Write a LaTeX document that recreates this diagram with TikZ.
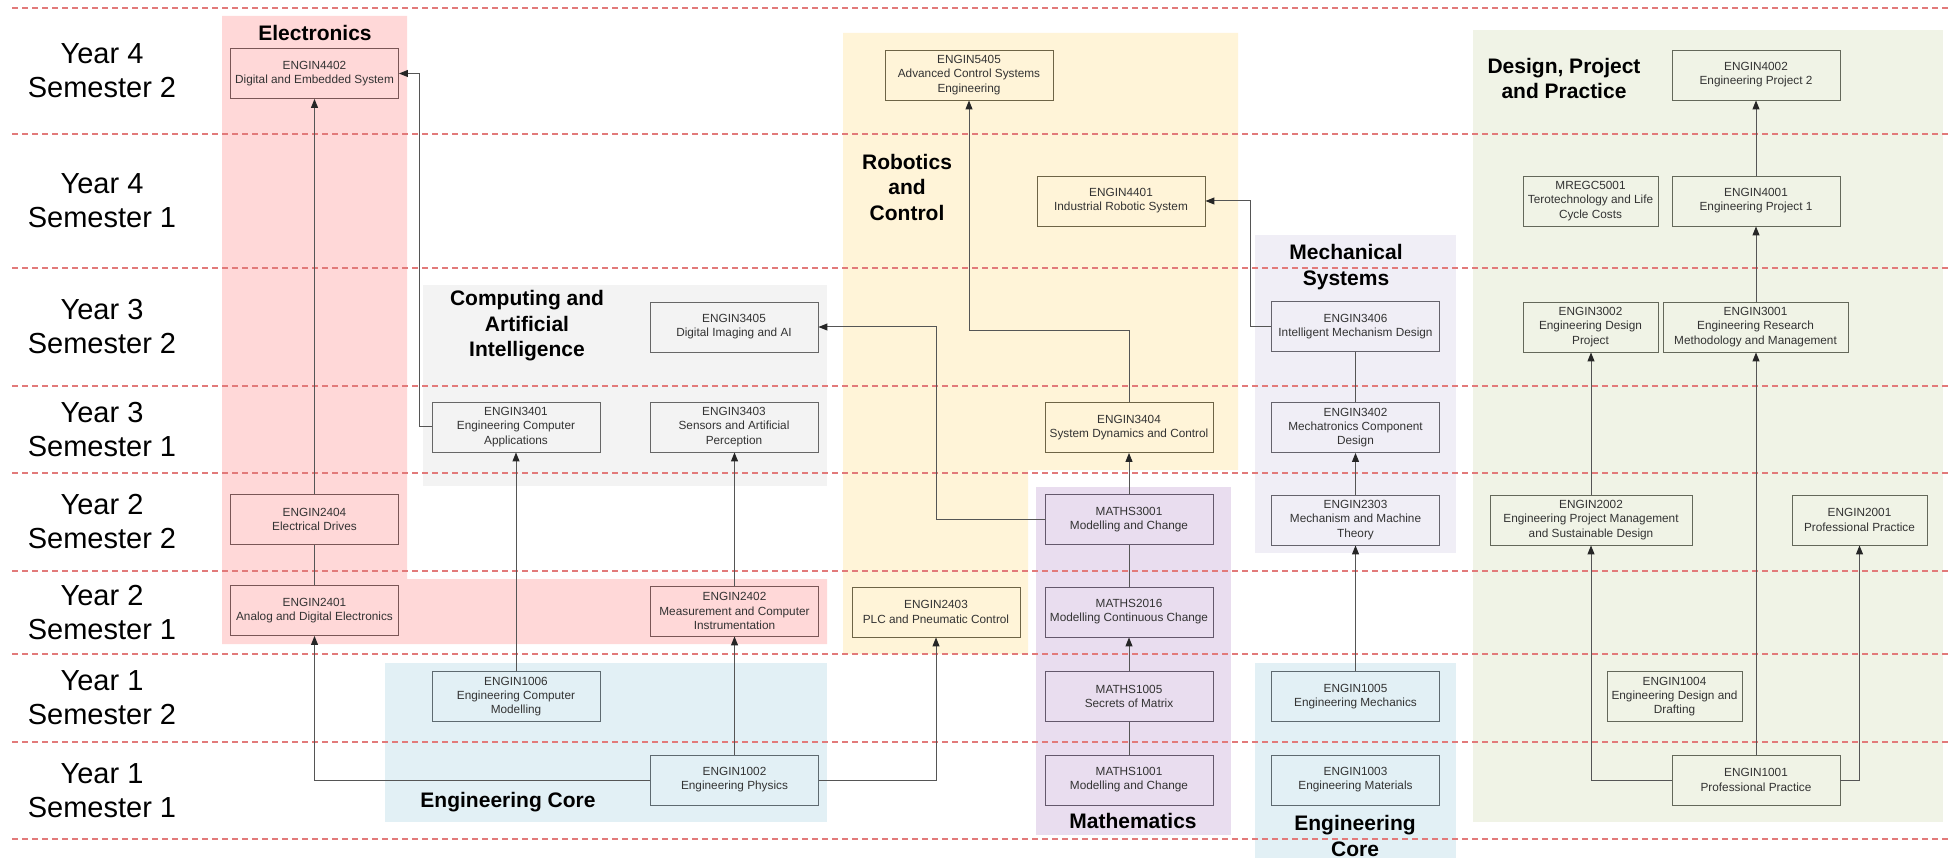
\documentclass[tikz,border=0pt]{standalone}
\usepackage{fontspec}
\setmainfont{Liberation Sans}
\usetikzlibrary{arrows.meta,calc}
\definecolor{elecfill}{HTML}{FFD8D8}
\definecolor{elecdraw}{HTML}{7A5656}
\definecolor{compfill}{HTML}{F3F3F3}
\definecolor{compdraw}{HTML}{666666}
\definecolor{robfill}{HTML}{FFF4D8}
\definecolor{robdraw}{HTML}{6E6446}
\definecolor{mathfill}{HTML}{E9DDEF}
\definecolor{mathdraw}{HTML}{64586C}
\definecolor{mechfill}{HTML}{F0EEF6}
\definecolor{mechdraw}{HTML}{65636C}
\definecolor{corefill}{HTML}{E2F0F5}
\definecolor{coredraw}{HTML}{5E6A70}
\definecolor{desfill}{HTML}{F0F3E6}
\definecolor{desdraw}{HTML}{64685A}
\definecolor{gridred}{HTML}{E27A7A}
\definecolor{connc}{HTML}{555555}
\definecolor{boxtext}{HTML}{333333}
\begin{document}
\begin{tikzpicture}[x=1pt,y=-1pt,
  course/.style={draw, line width=0.9pt, minimum width=168pt, minimum height=50pt,
    inner sep=2pt, align=center, text=boxtext, font=\fontsize{11.8}{14.2}\selectfont},
  elec/.style={course, fill=elecfill, draw=elecdraw},
  comp/.style={course, fill=compfill, draw=compdraw},
  rob/.style={course, fill=robfill, draw=robdraw},
  mth/.style={course, fill=mathfill, draw=mathdraw},
  mech/.style={course, fill=mechfill, draw=mechdraw},
  core/.style={course, fill=corefill, draw=coredraw},
  des/.style={course, fill=desfill, draw=desdraw},
  rowlabel/.style={align=center, font=\fontsize{29}{34}\selectfont},
  grouptitle/.style={align=center, font=\bfseries\fontsize{21}{25.5}\selectfont},
  gridline/.style={draw=gridred, line width=1.2pt, dash pattern=on 6pt off 4pt},
  conn/.style={draw=connc, line width=1pt},
  arr/.style={conn, -{Triangle[length=9pt,width=7pt,color=black!85]}},
]
\useasboundingbox (0,0) rectangle (1952,858);
\fill[white] (0,0) rectangle (1952,858);

% group backgrounds
\fill[elecfill] (222,16) -- (407,16) -- (407,579) -- (827,579) -- (827,644) -- (222,644) -- cycle;
\fill[compfill] (423,285) rectangle (827,486);
\fill[corefill] (385,663) rectangle (827,822);
\fill[robfill] (843,33) -- (1238,33) -- (1238,470) -- (1028,470) -- (1028,654) -- (843,654) -- cycle;
\fill[mathfill] (1036,487) rectangle (1231,835);
\fill[mechfill] (1255,235) rectangle (1456,553);
\fill[corefill] (1255,663) rectangle (1456,858);
\fill[desfill] (1473,30) rectangle (1943,822);

% semester grid lines
\foreach \yy in {8,134,268,386,473,571,654,742,839}
  \draw[gridline] (12,\yy) -- (1952,\yy);

% row labels
\node[rowlabel] (r1) at (102,71) {Year 4\\Semester 2};
\node[rowlabel] (r2) at (102,201) {Year 4\\Semester 1};
\node[rowlabel] (r3) at (102,327) {Year 3\\Semester 2};
\node[rowlabel] (r4) at (102,429.5) {Year 3\\Semester 1};
\node[rowlabel] (r5) at (102,522) {Year 2\\Semester 2};
\node[rowlabel] (r6) at (102,612.5) {Year 2\\Semester 1};
\node[rowlabel] (r7) at (102,698) {Year 1\\Semester 2};
\node[rowlabel] (r8) at (102,790.5) {Year 1\\Semester 1};

% group titles
\node[grouptitle] (tElec) at (315,33) {Electronics};
\node[grouptitle] (tComp) at (527,326) {Computing and\\Artificial\\Intelligence};
\node[grouptitle] (tCore1) at (508,802) {Engineering Core};
\node[grouptitle] (tRob) at (907,187) {Robotics\\and\\Control};
\node[grouptitle] (tMech) at (1346,267) {Mechanical\\Systems};
\node[grouptitle] (tMath) at (1133,821) {Mathematics};
\node[grouptitle] (tCore2) at (1355,836) {Engineering\\Core};
\node[grouptitle] (tDes) at (1564,78.5) {Design, Project\\and Practice};

% Electronics
\node[elec] (e4402) at (314.5,73.5) {ENGIN4402\\Digital and Embedded System};
\node[elec] (e2404) at (314.5,519.5) {ENGIN2404\\Electrical Drives};
\node[elec] (e2401) at (314.5,610.5) {ENGIN2401\\Analog and Digital Electronics};
\node[elec] (e2402) at (734.5,611) {ENGIN2402\\Measurement and Computer\\Instrumentation};

% Computing and AI
\node[comp] (e3405) at (734,327) {ENGIN3405\\Digital Imaging and AI};
\node[comp] (e3401) at (516,427) {ENGIN3401\\Engineering Computer\\Applications};
\node[comp] (e3403) at (734,427) {ENGIN3403\\Sensors and Artificial\\Perception};

% Engineering core (left)
\node[core] (e1006) at (516,696.5) {ENGIN1006\\Engineering Computer\\Modelling};
\node[core] (e1002) at (734.5,780) {ENGIN1002\\Engineering Physics};

% Robotics and Control
\node[rob] (e5405) at (969,75) {ENGIN5405\\Advanced Control Systems\\Engineering};
\node[rob] (e4401) at (1121,201) {ENGIN4401\\Industrial Robotic System};
\node[rob] (e3404) at (1129,427.5) {ENGIN3404\\System Dynamics and Control};
\node[rob] (e2403) at (936,612) {ENGIN2403\\PLC and Pneumatic Control};

% Mathematics
\node[mth] (m3001) at (1129,519.5) {MATHS3001\\Modelling and Change};
\node[mth] (m2016) at (1129,612) {MATHS2016\\Modelling Continuous Change};
\node[mth] (m1005) at (1129,696.5) {MATHS1005\\Secrets of Matrix};
\node[mth] (m1001) at (1129,780) {MATHS1001\\Modelling and Change};

% Mechanical Systems
\node[mech] (e3406) at (1355.5,326.5) {ENGIN3406\\Intelligent Mechanism Design};
\node[mech] (e3402) at (1355.5,427.5) {ENGIN3402\\Mechatronics Component\\Design};
\node[mech] (e2303) at (1355.5,520) {ENGIN2303\\Mechanism and Machine\\Theory};

% Engineering core (right)
\node[core] (e1005) at (1355.5,696.5) {ENGIN1005\\Engineering Mechanics};
\node[core] (e1003) at (1355.5,780) {ENGIN1003\\Engineering Materials};

% Design, Project and Practice
\node[des] (e4002) at (1756,75) {ENGIN4002\\Engineering Project 2};
\node[des, minimum width=135pt] (mregc) at (1590.5,201) {MREGC5001\\Terotechnology and Life\\Cycle Costs};
\node[des] (e4001) at (1756,201) {ENGIN4001\\Engineering Project 1};
\node[des, minimum width=135pt] (e3002) at (1590.5,327) {ENGIN3002\\Engineering Design\\Project};
\node[des, minimum width=185pt] (e3001) at (1755.5,327) {ENGIN3001\\Engineering Research\\Methodology and Management};
\node[des, minimum width=202pt] (e2002) at (1591,520) {ENGIN2002\\Engineering Project Management\\and Sustainable Design};
\node[des, minimum width=135pt] (e2001) at (1859.5,520) {ENGIN2001\\Professional Practice};
\node[des, minimum width=135pt] (e1004) at (1674.5,696.5) {ENGIN1004\\Engineering Design and\\Drafting};
\node[des] (e1001) at (1756,780) {ENGIN1001\\Professional Practice};

% bend points
\coordinate (bMath) at (936,0);

% connectors
\draw[arr] (e2404.north) -- (e4402.south);
\draw[conn] (e2401.north) -- (e2404.south);
\draw[arr] (e1002.west) -| (e2401.south);
\draw[arr] (e3401.west) -- ++(-12,0) |- (e4402.east);
\draw[arr] (e1006.north) -- (e3401.south);
\draw[arr] (e1002.north) -- (e2402.south);
\draw[arr] (e2402.north) -- (e2402.north |- e3403.south);
\draw[arr] (e1002.east) -| (e2403.south);
\draw[arr] (m3001.west) -- (m3001.west -| bMath) |- (e3405.east);
\draw[arr] (e3404.north) -- ++(0,-72) -| (e5405.south);
\draw[arr] (m3001.north) -- (e3404.south);
\draw[conn] (m2016.north) -- (m3001.south);
\draw[arr] (m1005.north) -- (m2016.south);
\draw[conn] (m1001.north) -- (m1005.south);
\draw[arr] (e3406.west) -- ++(-21,0) |- (e4401.east);
\draw[conn] (e3402.north) -- (e3406.south);
\draw[arr] (e2303.north) -- (e3402.south);
\draw[arr] (e1005.north) -- (e2303.south);
\draw[arr] (e4001.north) -- (e4002.south);
\draw[arr] (e3001.north -| e4001.north) -- (e4001.south);
\draw[arr] (e2002.north) -- (e2002.north |- e3002.south);
\draw[arr] (e1001.north) -- (e1001.north |- e3001.south);
\draw[arr] (e1001.west) -| (e2002.south);
\draw[arr] (e1001.east) -| (e2001.south);
\end{tikzpicture}
\end{document}
